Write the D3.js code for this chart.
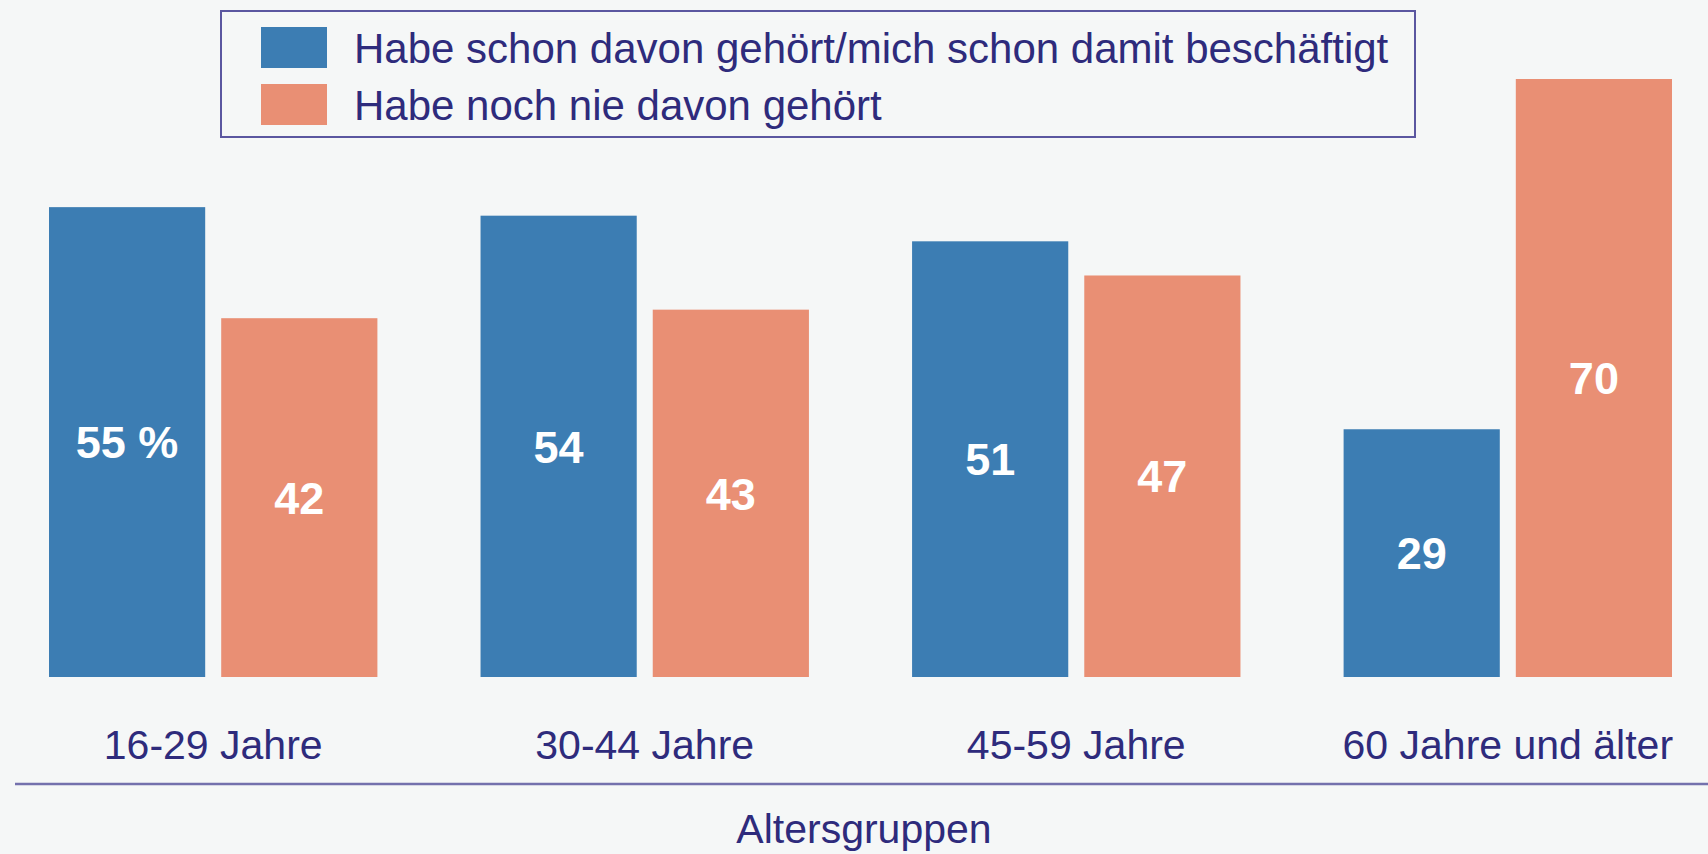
<!DOCTYPE html>
<html>
<head>
<meta charset="utf-8">
<script src="https://cdn.jsdelivr.net/npm/d3@7"></script>
<style>
    body { margin: 0; background: #f5f7f7; }
    svg { display: block; font-family: "Liberation Sans", Arial, sans-serif; }
</style>
</head>
<body>
<svg></svg>
<script>
const altersgruppen = ["16-29 Jahre", "30-44 Jahre", "45-59 Jahre", "60 Jahre und älter"]
const schonGehoert = [55, 54, 51, 29]
const nieGehoert = [42, 43, 47, 70]
const reihen = ["Habe schon davon gehört/mich schon damit beschäftigt", "Habe noch nie davon gehört"]
const farben = ["#3c7db3", "#e98f74"]

const width = 1708
const height = 854
const tekstKleur = "#2e2b7c"

const svg = d3.select('svg')
    .attr("width", width)
    .attr("height", height)

const data = altersgruppen.map((groep, i) => ({
    groep: groep,
    waarden: [
        { reihe: reihen[0], wert: schonGehoert[i], idx: 0 },
        { reihe: reihen[1], wert: nieGehoert[i], idx: 1 }
    ]
}))

maakBalken(data)
maakLegenda()

function maakBalken(data) {
    const x0 = d3.scaleBand()
        .domain(altersgruppen)
        .range([49, 1672])
        .paddingInner(0.239)
        .paddingOuter(0)

    const x1 = d3.scaleBand()
        .domain(reihen)
        .range([0, x0.bandwidth()])
        .paddingInner(0.093)

    const y = d3.scaleLinear()
        .domain([0, 70])
        .range([677, 79])

    const groepen = svg.selectAll('g.groep')
        .data(data)
        .enter()
        .append('g')
        .attr('class', 'groep')
        .attr('transform', d => `translate(${x0(d.groep)},0)`)

    groepen.selectAll('rect')
        .data(d => d.waarden)
        .enter()
        .append('rect')
        .attr('x', d => x1(d.reihe))
        .attr('y', d => y(d.wert))
        .attr('width', x1.bandwidth())
        .attr('height', d => y(0) - y(d.wert))
        .attr('fill', d => farben[d.idx])

    groepen.selectAll('text.wert')
        .data((d, gi) => d.waarden.map(w => ({ ...w, gi: gi })))
        .enter()
        .append('text')
        .attr('class', 'wert')
        .attr('x', d => x1(d.reihe) + x1.bandwidth() / 2)
        .attr('y', d => (y(d.wert) + y(0)) / 2)
        .attr('dy', '0.36em')
        .attr('text-anchor', 'middle')
        .attr('fill', '#ffffff')
        .attr('font-weight', 'bold')
        .attr('font-size', 45)
        .text(d => (d.gi === 0 && d.idx === 0) ? d.wert + " %" : d.wert)

    // categorie labels onder de balken
    svg.append('g')
        .selectAll('text')
        .data(altersgruppen)
        .enter()
        .append('text')
        .attr('x', d => x0(d) + x0.bandwidth() / 2)
        .attr('y', 759)
        .attr('text-anchor', 'middle')
        .attr('fill', tekstKleur)
        .attr('font-size', 41)
        .text(d => d)

    svg.append('line')
        .attr('x1', 15)
        .attr('x2', width)
        .attr('y1', 784)
        .attr('y2', 784)
        .attr('stroke', '#7471ad')
        .attr('stroke-width', 2.5)

    svg.append('text')
        .attr('x', 864)
        .attr('y', 843)
        .attr('text-anchor', 'middle')
        .attr('fill', tekstKleur)
        .attr('font-size', 41)
        .text("Altersgruppen")
}

function maakLegenda() {
    const legenda = svg.append('g')

    legenda.append('rect')
        .attr('x', 221)
        .attr('y', 11)
        .attr('width', 1194)
        .attr('height', 126)
        .attr('fill', 'none')
        .attr('stroke', '#5b57a0')
        .attr('stroke-width', 2)

    const items = legenda.selectAll('g.item')
        .data(reihen)
        .enter()
        .append('g')
        .attr('class', 'item')
        .attr('transform', (d, i) => `translate(261,${27 + i * 57})`)

    items.append('rect')
        .attr('width', 66)
        .attr('height', 41)
        .attr('fill', (d, i) => farben[i])

    items.append('text')
        .attr('x', 93)
        .attr('y', 36)
        .attr('fill', tekstKleur)
        .attr('font-size', 42)
        .text(d => d)
}
</script>
</body>
</html>
